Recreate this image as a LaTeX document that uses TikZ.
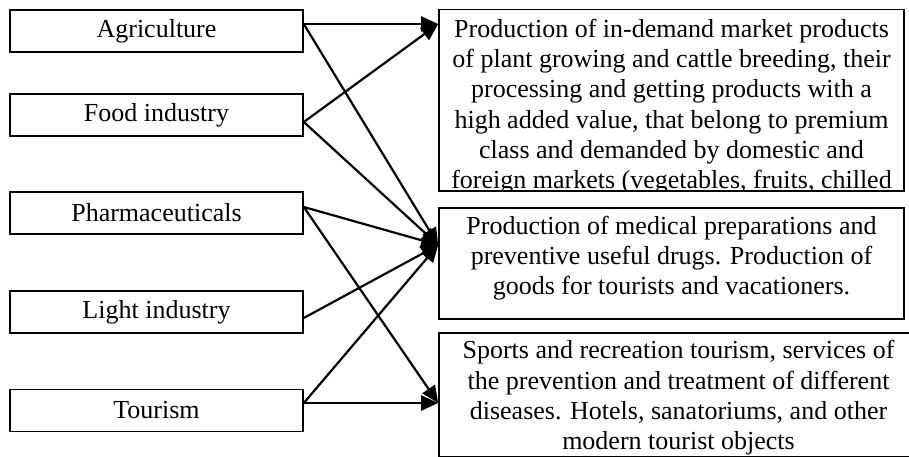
\documentclass[tikz,border=0pt]{standalone}
\usepackage{fontspec}
\setmainfont{Liberation Serif}
\usetikzlibrary{arrows.meta}
\newcommand\diagfont{\fontsize{26}{30.2}\selectfont}
\begin{document}
\begin{tikzpicture}[x=1pt,y=-1pt,
  src/.style={draw, line width=1.6pt, minimum width=293pt, minimum height=42pt, inner sep=0pt, font=\diagfont},
  tgt/.style={draw, line width=1.6pt, inner sep=0pt},
  body/.style={anchor=north, align=center, inner sep=0pt, font=\diagfont},
  link/.style={line width=2.2pt, -{Triangle[length=17pt,width=15pt]}}]
\fill[white] (0,0) rectangle (909,457);
\useasboundingbox (0,0) rectangle (909,457);
\clip (0,0) rectangle (909,457);

% branches on the left
\node[src] (agri)  at (156.5,31)    {Agriculture};
\node[src] (food)  at (156.5,115)   {Food industry};
\node[src] (pharm) at (156.5,213)   {Pharmaceuticals};
\node[src] (light) at (156.5,312)   {Light industry};
\node[src] (tour)  at (156.5,410.5) {Tourism};

% result boxes on the right
\node[tgt, minimum width=465pt, minimum height=181.5pt] (r1) at (671.5,100.25) {};
\node[tgt, minimum width=465pt, minimum height=111pt]   (r2) at (671.5,263.5) {};
\node[tgt, minimum width=479pt, minimum height=124pt]   (r3) at (678.5,395) {};

% box texts, cut off at the box borders
\begin{scope}
  \clip ([shift={(1pt,-1pt)}]r1.north west) rectangle ([shift={(-1pt,2.5pt)}]r1.south east);
  \node[body] (t1) at ([yshift=-8.5pt]r1.north) {\rule{0pt}{20pt}Production of in-demand market products\\
    of plant growing and cattle breeding, their\\
    processing and getting products with a\\
    high added value, that belong to premium\\
    class and demanded by domestic and\\
    foreign markets (vegetables, fruits, chilled};
\end{scope}
\begin{scope}
  \clip ([shift={(1pt,-1pt)}]r2.north west) rectangle ([shift={(-1pt,2pt)}]r2.south east);
  \node[body] (t2) at ([yshift=-7pt]r2.north) {\rule{0pt}{20pt}Production of medical preparations and\\
    preventive useful drugs. Production of\\
    goods for tourists and vacationers.};
\end{scope}
\begin{scope}
  \clip ([shift={(1pt,-1pt)}]r3.north west) rectangle ([shift={(-1pt,2pt)}]r3.south east);
  \node[body] (t3) at ([yshift=-6.5pt]r3.north) {\rule{0pt}{20pt}Sports and recreation tourism, services of\\
    the prevention and treatment of different\\
    diseases. Hotels, sanatoriums, and other\\
    modern tourist objects};
\end{scope}

% links
\draw[link] ([yshift=7pt]agri.east)   -- ([yshift=76.25pt]r1.west);
\draw[link] ([yshift=7pt]agri.east)   -- ([yshift=18.5pt]r2.west);
\draw[link] ([yshift=-7pt]food.east)  -- ([yshift=76.25pt]r1.west);
\draw[link] ([yshift=-7pt]food.east)  -- ([yshift=18.5pt]r2.west);
\draw[link] ([yshift=6pt]pharm.east)  -- ([yshift=18.5pt]r2.west);
\draw[link] ([yshift=6pt]pharm.east)  -- ([yshift=-8pt]r3.west);
\draw[link] ([yshift=-6pt]light.east) -- ([yshift=18.5pt]r2.west);
\draw[link] ([yshift=7.5pt]tour.east) -- ([yshift=18.5pt]r2.west);
\draw[link] ([yshift=7.5pt]tour.east) -- ([yshift=-8pt]r3.west);
\end{tikzpicture}
\end{document}
